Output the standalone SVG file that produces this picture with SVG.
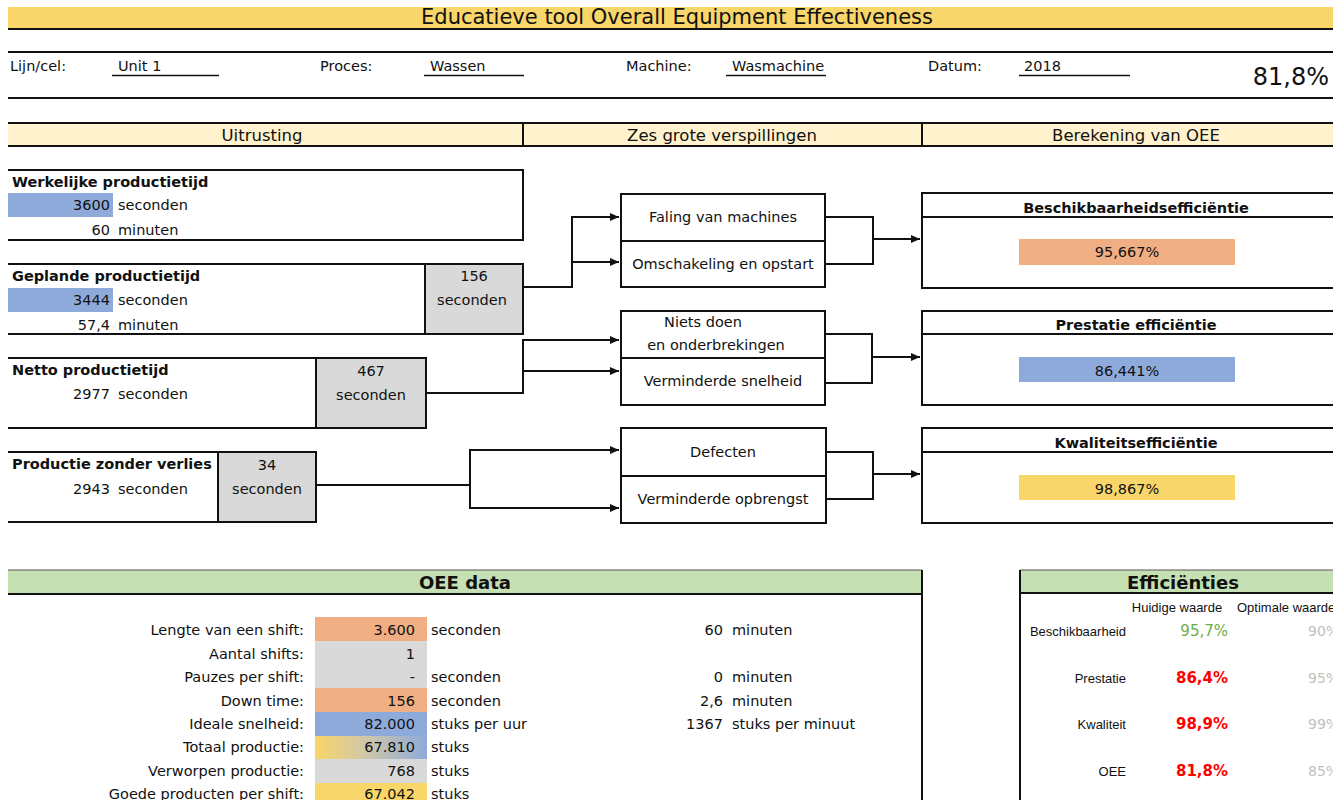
<svg xmlns="http://www.w3.org/2000/svg" width="1333" height="800" viewBox="0 0 1333 800">
  <defs>
    <style>
      .t { font-family: "DejaVu Sans", Verdana, sans-serif; font-size: 14.5px; fill: #111; }
      .b { font-weight: bold; }
      .m { text-anchor: middle; }
      .e { text-anchor: end; }
      .h { font-size: 16.5px; }
      .a { font-family: "Liberation Sans", Arial, sans-serif; font-size: 13px; fill: #111; }
      .ln { stroke: #111; stroke-width: 2; fill: none; }
      .box { stroke: #111; stroke-width: 2; fill: #fff; }
      .gray { fill: #d9d9d9; }
      .blue { fill: #8eaadb; }
      .orange { fill: #f0ae84; }
      .yellow { fill: #f9d66a; }
      .green { fill: #c5e0b3; }
      .con { stroke: #111; stroke-width: 2; fill: none; }
      .arr { marker-end: url(#arrow); }
      .red { fill: #ff0000; font-weight: bold; font-size: 15px; }
      .ok { fill: #70ad47; font-size: 15px; }
      .opt { fill: #bfbfbf; font-size: 14px; }
    </style>
    <marker id="arrow" markerUnits="userSpaceOnUse" markerWidth="9" markerHeight="8" refX="9" refY="4" orient="auto">
      <path d="M0,0 L9,4 L0,8 z" fill="#111"/>
    </marker>
    <linearGradient id="mix" x1="0" y1="0" x2="1" y2="0">
      <stop offset="0" stop-color="#f9d66a"/>
      <stop offset="0.45" stop-color="#cfc7a8"/>
      <stop offset="1" stop-color="#8eaadb"/>
    </linearGradient>
  </defs>
  <rect width="1333" height="800" fill="#fff"/>

  <!-- title band -->
  <g id="title">
    <rect x="8" y="7" width="1325" height="22" class="yellow"/>
    <line x1="8" y1="29" x2="1333" y2="29" class="ln"/>
    <text x="677" y="24" class="t m" style="font-size:21px">Educatieve tool Overall Equipment Effectiveness</text>
  </g>

  <!-- identification fields -->
  <g id="fields">
    <line x1="8" y1="52" x2="1333" y2="52" class="ln"/>
    <line x1="8" y1="98" x2="1333" y2="98" class="ln"/>
    <text x="10" y="71" class="t">Lijn/cel:</text>
    <text x="118" y="71" class="t">Unit 1</text>
    <line x1="112" y1="75.5" x2="219" y2="75.5" class="ln" style="stroke-width:1.5"/>
    <text x="320" y="71" class="t">Proces:</text>
    <text x="430" y="71" class="t">Wassen</text>
    <line x1="424" y1="75.5" x2="524" y2="75.5" class="ln" style="stroke-width:1.5"/>
    <text x="626" y="71" class="t">Machine:</text>
    <text x="732" y="71" class="t">Wasmachine</text>
    <line x1="726" y1="75.5" x2="826" y2="75.5" class="ln" style="stroke-width:1.5"/>
    <text x="928" y="71" class="t">Datum:</text>
    <text x="1024" y="71" class="t">2018</text>
    <line x1="1019" y1="75.5" x2="1130" y2="75.5" class="ln" style="stroke-width:1.5"/>
    <text x="1329" y="85" class="t e" style="font-size:24px">81,8%</text>
  </g>

  <!-- section header -->
  <g id="sections">
    <rect x="8" y="123" width="1325" height="23" fill="#fff2cc"/>
    <line x1="8" y1="123" x2="1333" y2="123" class="ln"/>
    <line x1="8" y1="146" x2="1333" y2="146" class="ln"/>
    <line x1="523" y1="123" x2="523" y2="146" class="ln"/>
    <line x1="922" y1="123" x2="922" y2="146" class="ln"/>
    <text x="262" y="141" class="t h m">Uitrusting</text>
    <text x="722" y="141" class="t h m">Zes grote verspillingen</text>
    <text x="1136" y="141" class="t h m">Berekening van OEE</text>
  </g>

  <!-- time buckets -->
  <g id="werkelijke">
    <rect x="8" y="193" width="105" height="24" class="blue"/>
    <path d="M8,170 H523 V240 H8" class="ln"/>
    <text x="12" y="187" class="t b">Werkelijke productietijd</text>
    <text x="110" y="210" class="t e">3600</text>
    <text x="118" y="210" class="t">seconden</text>
    <text x="110" y="235" class="t e">60</text>
    <text x="118" y="235" class="t">minuten</text>
  </g>

  <g id="geplande">
    <rect x="8" y="288" width="105" height="24" class="blue"/>
    <rect x="425" y="264" width="98" height="70" class="gray"/>
    <path d="M8,264 H523 V334 H8" class="ln"/>
    <line x1="425" y1="264" x2="425" y2="334" class="ln"/>
    <text x="12" y="281" class="t b">Geplande productietijd</text>
    <text x="110" y="305" class="t e">3444</text>
    <text x="118" y="305" class="t">seconden</text>
    <text x="110" y="330" class="t e">57,4</text>
    <text x="118" y="330" class="t">minuten</text>
    <text x="474" y="281" class="t m">156</text>
    <text x="472" y="305" class="t m">seconden</text>
  </g>

  <g id="netto">
    <rect x="316" y="358" width="110" height="70" class="gray"/>
    <path d="M8,358 H426 V428 H8" class="ln"/>
    <line x1="316" y1="358" x2="316" y2="428" class="ln"/>
    <text x="12" y="375" class="t b">Netto productietijd</text>
    <text x="110" y="399" class="t e">2977</text>
    <text x="118" y="399" class="t">seconden</text>
    <text x="371" y="376" class="t m">467</text>
    <text x="371" y="400" class="t m">seconden</text>
  </g>

  <g id="zonder-verlies">
    <rect x="218" y="452" width="98" height="70" class="gray"/>
    <path d="M8,452 H316 V522 H8" class="ln"/>
    <line x1="218" y1="452" x2="218" y2="522" class="ln"/>
    <text x="12" y="469" class="t b">Productie zonder verlies</text>
    <text x="110" y="494" class="t e">2943</text>
    <text x="118" y="494" class="t">seconden</text>
    <text x="267" y="470" class="t m">34</text>
    <text x="267" y="494" class="t m">seconden</text>
  </g>

  <!-- six big losses -->
  <g id="verlies-beschikbaarheid">
    <rect x="621" y="194" width="204" height="93" class="box"/>
    <line x1="621" y1="241" x2="825" y2="241" class="ln"/>
    <text x="723" y="222" class="t m">Faling van machines</text>
    <text x="723" y="269" class="t m">Omschakeling en opstart</text>
  </g>

  <g id="verlies-prestatie">
    <rect x="621" y="311" width="204" height="94" class="box"/>
    <line x1="621" y1="358" x2="825" y2="358" class="ln"/>
    <text x="703" y="327" class="t m">Niets doen</text>
    <text x="716" y="350" class="t m">en onderbrekingen</text>
    <text x="723" y="386" class="t m">Verminderde snelheid</text>
  </g>

  <g id="verlies-kwaliteit">
    <rect x="621" y="428" width="205" height="95" class="box"/>
    <line x1="621" y1="476" x2="826" y2="476" class="ln"/>
    <text x="723" y="457" class="t m">Defecten</text>
    <text x="723" y="504" class="t m">Verminderde opbrengst</text>
  </g>

  <!-- OEE factors -->
  <g id="beschikbaarheid">
    <path d="M1333,193 H922 V288 H1333" class="ln"/>
    <line x1="922" y1="217" x2="1333" y2="217" class="ln"/>
    <text x="1136" y="213" class="t b m">Beschikbaarheidsefficiëntie</text>
    <rect x="1019" y="239" width="216" height="26" class="orange"/>
    <text x="1127" y="257" class="t m">95,667%</text>
  </g>

  <g id="prestatie">
    <path d="M1333,311 H922 V405 H1333" class="ln"/>
    <line x1="922" y1="334" x2="1333" y2="334" class="ln"/>
    <text x="1136" y="330" class="t b m">Prestatie efficiëntie</text>
    <rect x="1019" y="357" width="216" height="25" class="blue"/>
    <text x="1127" y="376" class="t m">86,441%</text>
  </g>

  <g id="kwaliteit">
    <path d="M1333,428 H922 V523 H1333" class="ln"/>
    <line x1="922" y1="452" x2="1333" y2="452" class="ln"/>
    <text x="1136" y="448" class="t b m">Kwaliteitsefficiëntie</text>
    <rect x="1019" y="475" width="216" height="25" class="yellow"/>
    <text x="1127" y="494" class="t m">98,867%</text>
  </g>

  <!-- connectors -->
  <g id="connectors">
    <path d="M523,287 H572 V217 H619" class="con arr"/>
    <path d="M572,262 H619" class="con arr"/>
    <path d="M825,217 H873 V264 H825" class="con"/>
    <path d="M873,239 H920" class="con arr"/>

    <path d="M426,393 H523 V340 H619" class="con arr"/>
    <path d="M523,371 H619" class="con arr"/>
    <path d="M825,334 H872 V383 H825" class="con"/>
    <path d="M872,357 H920" class="con arr"/>

    <path d="M316,485 H470 V450 H619" class="con arr"/>
    <path d="M470,485 V508 H619" class="con arr"/>
    <path d="M826,452 H873 V499 H826" class="con"/>
    <path d="M873,474 H920" class="con arr"/>
  </g>

  <!-- OEE data table -->
  <g id="oee-data">
    <rect x="8" y="570" width="914" height="24" class="green"/>
    <line x1="8" y1="570" x2="922" y2="570" stroke="#555" stroke-width="1"/>
    <line x1="8" y1="594" x2="922" y2="594" class="ln"/>
    <line x1="922" y1="570" x2="922" y2="800" class="ln"/>
    <text x="465" y="589" class="t b m" style="font-size:18px">OEE data</text>

    <rect x="315" y="617" width="112" height="24" class="orange"/>
    <rect x="315" y="641" width="112" height="47" class="gray"/>
    <rect x="315" y="688" width="112" height="24" class="orange"/>
    <rect x="315" y="712" width="112" height="24" class="blue"/>
    <rect x="315" y="736" width="112" height="23" fill="url(#mix)"/>
    <rect x="315" y="759" width="112" height="24" class="gray"/>
    <rect x="315" y="783" width="112" height="17" class="yellow"/>

    <text x="304" y="635" class="t e">Lengte van een shift:</text>
    <text x="304" y="659" class="t e">Aantal shifts:</text>
    <text x="304" y="682" class="t e">Pauzes per shift:</text>
    <text x="304" y="706" class="t e">Down time:</text>
    <text x="304" y="729" class="t e">Ideale snelheid:</text>
    <text x="304" y="752" class="t e">Totaal productie:</text>
    <text x="304" y="776" class="t e">Verworpen productie:</text>
    <text x="304" y="799" class="t e">Goede producten per shift:</text>

    <text x="415" y="635" class="t e">3.600</text>
    <text x="415" y="659" class="t e">1</text>
    <text x="415" y="682" class="t e">-</text>
    <text x="415" y="706" class="t e">156</text>
    <text x="415" y="729" class="t e">82.000</text>
    <text x="415" y="752" class="t e">67.810</text>
    <text x="415" y="776" class="t e">768</text>
    <text x="415" y="799" class="t e">67.042</text>

    <text x="431" y="635" class="t">seconden</text>
    <text x="431" y="682" class="t">seconden</text>
    <text x="431" y="706" class="t">seconden</text>
    <text x="431" y="729" class="t">stuks per uur</text>
    <text x="431" y="752" class="t">stuks</text>
    <text x="431" y="776" class="t">stuks</text>
    <text x="431" y="799" class="t">stuks</text>

    <text x="723" y="635" class="t e">60</text>
    <text x="732" y="635" class="t">minuten</text>
    <text x="723" y="682" class="t e">0</text>
    <text x="732" y="682" class="t">minuten</text>
    <text x="723" y="706" class="t e">2,6</text>
    <text x="732" y="706" class="t">minuten</text>
    <text x="723" y="729" class="t e">1367</text>
    <text x="732" y="729" class="t">stuks per minuut</text>
  </g>

  <!-- efficiency summary -->
  <g id="efficienties">
    <rect x="1020" y="570" width="313" height="23" class="green"/>
    <line x1="1020" y1="570" x2="1333" y2="570" stroke="#555" stroke-width="1"/>
    <line x1="1020" y1="593" x2="1333" y2="593" class="ln"/>
    <line x1="1020" y1="570" x2="1020" y2="800" class="ln"/>
    <text x="1183" y="589" class="t b m" style="font-size:18px">Efficiënties</text>

    <text x="1177" y="612" class="a m">Huidige waarde</text>
    <text x="1237" y="612" class="a">Optimale waarde</text>

    <text x="1126" y="636" class="a e">Beschikbaarheid</text>
    <text x="1126" y="683" class="a e">Prestatie</text>
    <text x="1126" y="729" class="a e">Kwaliteit</text>
    <text x="1126" y="776" class="a e">OEE</text>

    <text x="1228" y="636" class="t e ok">95,7%</text>
    <text x="1228" y="683" class="t e red">86,4%</text>
    <text x="1228" y="729" class="t e red">98,9%</text>
    <text x="1228" y="776" class="t e red">81,8%</text>

    <text x="1308" y="636" class="t opt">90%</text>
    <text x="1308" y="683" class="t opt">95%</text>
    <text x="1308" y="729" class="t opt">99%</text>
    <text x="1308" y="776" class="t opt">85%</text>
  </g>
</svg>
